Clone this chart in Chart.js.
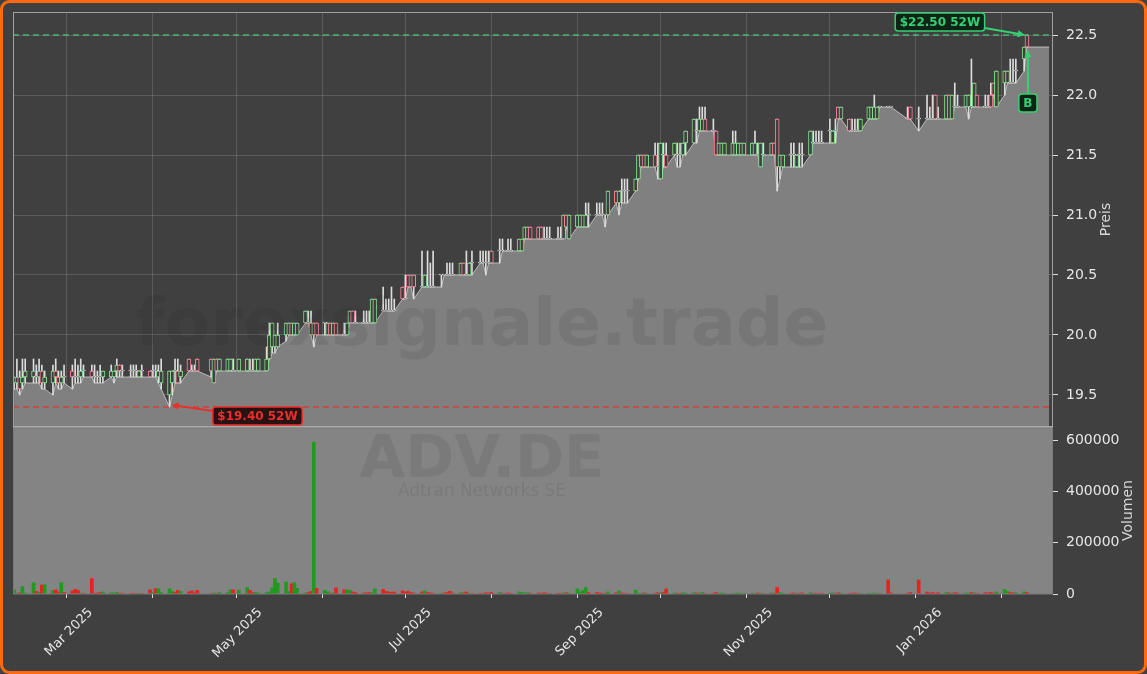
<!DOCTYPE html>
<html>
<head>
<meta charset="utf-8">
<title>ADV.DE</title>
<script src="https://cdn.jsdelivr.net/npm/chart.js@4.4.1/dist/chart.umd.min.js"></script>
<style>
  html, body { margin: 0; padding: 0; background: #404040; }
  canvas { display: block; }
</style>
</head>
<body>
<canvas id="chart" width="1147" height="674"></canvas>
<script>
// first trading day, trading days follow Mon-Fri without exchange holidays
const firstDay = "2025-02-10";
const holidays = ["2025-04-18", "2025-04-21", "2025-05-01", "2025-12-24", "2025-12-25", "2025-12-26", "2025-12-31", "2026-01-01"];

// one row per week
const opens = [
  19.6, 19.6, 19.65, 19.6, 19.65,
  19.65, 19.65, 19.65, 19.7, 19.6,
  19.6, 19.7, 19.65, 19.6, 19.65,
  19.7, 19.65, 19.65, 19.65, 19.7,
  19.7, 19.65, 19.65, 19.65, 19.65,
  19.65, 19.65, 19.7, 19.75, 19.7,
  19.7, 19.7, 19.7, 19.65, 19.7,
  19.7, 19.7, 19.7, 19.65, 19.6,
  19.5, 19.6, 19.7, 19.7, 19.65,
  19.8, 19.7, 19.7, 19.8,
  19.8, 19.6, 19.8, 19.7,
  19.7, 19.7, 19.7, 19.7,
  19.7, 19.7, 19.7, 19.7, 19.7,
  19.7, 19.8, 19.9, 19.9, 19.9,
  20.0, 20.0, 20.1, 20.0, 20.0,
  20.1, 20.1, 20.1, 20.0, 20.1,
  20.1, 20.0, 20.1, 20.0, 20.1,
  20.0, 20.0, 20.1, 20.2, 20.1,
  20.1, 20.1, 20.1, 20.1, 20.1,
  20.2, 20.2, 20.2, 20.2, 20.2,
  20.4, 20.3, 20.5, 20.5, 20.5,
  20.4, 20.4, 20.4, 20.4, 20.4,
  20.5, 20.5, 20.5, 20.5, 20.5,
  20.5, 20.6, 20.5, 20.5, 20.6,
  20.6, 20.6, 20.6, 20.6, 20.7,
  20.7, 20.7, 20.7, 20.7, 20.7,
  20.7, 20.7, 20.8, 20.8, 20.9,
  20.9, 20.9, 20.8, 20.8, 20.8,
  20.8, 20.8, 20.8, 21.0, 20.8,
  20.9, 20.9, 20.9, 20.9, 21.0,
  21.0, 21.0, 21.0, 21.0, 21.0,
  21.2, 21.1, 21.2, 21.2, 21.2,
  21.2, 21.3, 21.4, 21.5, 21.4,
  21.5, 21.4, 21.3, 21.5, 21.5,
  21.5, 21.5, 21.5, 21.5, 21.6,
  21.6, 21.7, 21.7, 21.7, 21.8,
  21.7, 21.7, 21.5, 21.5, 21.5,
  21.5, 21.5, 21.5, 21.5, 21.5,
  21.5, 21.5, 21.5, 21.4, 21.5,
  21.5, 21.6, 21.8, 21.4, 21.4,
  21.5, 21.5, 21.4, 21.5, 21.5,
  21.5, 21.6, 21.6, 21.6, 21.6,
  21.7, 21.6, 21.7, 21.9, 21.8,
  21.8, 21.7, 21.7, 21.7, 21.7,
  21.8, 21.8, 21.8, 21.8, 21.9,
  21.9, 21.9,
  21.8, 21.9, 21.8,
  21.8, 21.8, 21.8, 22.0, 21.8,
  21.8, 22.0, 21.8, 21.9, 21.9,
  21.9, 21.9, 21.9, 21.9, 22.0,
  21.9, 21.9, 22.0, 22.1, 21.9,
  22.1, 22.1, 22.1, 22.1, 22.2,
  22.3, 22.5
];
const highs = [
  19.65, 19.8, 19.7, 19.8, 19.8,
  19.8, 19.75, 19.8, 19.75, 19.7,
  19.75, 19.8, 19.7, 19.7, 19.75,
  19.75, 19.8, 19.75, 19.8, 19.75,
  19.75, 19.75, 19.7, 19.75, 19.7,
  19.75, 19.7, 19.8, 19.75, 19.75,
  19.75, 19.75, 19.75, 19.7, 19.75,
  19.7, 19.75, 19.75, 19.75, 19.8,
  19.7, 19.7, 19.8, 19.8, 19.75,
  19.8, 19.75, 19.75, 19.8,
  19.8, 19.8, 19.8, 19.8,
  19.8, 19.8, 19.8, 19.8,
  19.8, 19.8, 19.8, 19.8, 19.8,
  19.9, 20.1, 20.1, 20.0, 20.1,
  20.1, 20.1, 20.1, 20.1, 20.1,
  20.2, 20.2, 20.2, 20.1, 20.1,
  20.1, 20.1, 20.1, 20.1, 20.1,
  20.1, 20.1, 20.2, 20.2, 20.2,
  20.2, 20.2, 20.2, 20.3, 20.3,
  20.4, 20.3, 20.3, 20.4, 20.3,
  20.4, 20.5, 20.5, 20.5, 20.5,
  20.7, 20.5, 20.7, 20.6, 20.7,
  20.5, 20.5, 20.6, 20.6, 20.6,
  20.6, 20.6, 20.7, 20.6, 20.7,
  20.7, 20.7, 20.7, 20.7, 20.7,
  20.8, 20.8, 20.7, 20.8, 20.8,
  20.8, 20.8, 20.9, 20.9, 20.9,
  20.9, 20.9, 20.9, 20.9, 20.9,
  20.9, 20.9, 21.0, 21.0, 21.0,
  21.0, 21.0, 21.0, 21.1, 21.1,
  21.1, 21.1, 21.1, 21.0, 21.2,
  21.2, 21.2, 21.3, 21.3, 21.3,
  21.3, 21.5, 21.5, 21.5, 21.5,
  21.6, 21.6, 21.6, 21.6, 21.6,
  21.6, 21.6, 21.6, 21.6, 21.7,
  21.8, 21.8, 21.9, 21.9, 21.9,
  21.8, 21.7, 21.6, 21.6, 21.6,
  21.7, 21.7, 21.6, 21.6, 21.6,
  21.6, 21.7, 21.6, 21.6, 21.6,
  21.6, 21.6, 21.8, 21.5, 21.5,
  21.6, 21.6, 21.5, 21.6, 21.6,
  21.7, 21.7, 21.7, 21.7, 21.7,
  21.8, 21.7, 21.8, 21.9, 21.9,
  21.8, 21.8, 21.8, 21.8, 21.8,
  21.9, 21.9, 22.0, 21.9, 21.9,
  21.9, 21.9,
  21.9, 21.9, 21.9,
  22.0, 21.9, 22.0, 22.0, 21.9,
  22.0, 22.0, 22.0, 22.1, 22.0,
  22.0, 22.0, 22.3, 22.1, 22.0,
  22.0, 22.0, 22.1, 22.1, 22.2,
  22.2, 22.2, 22.3, 22.3, 22.3,
  22.4, 22.5
];
const lows = [
  19.55, 19.55, 19.5, 19.55, 19.6,
  19.6, 19.6, 19.6, 19.55, 19.55,
  19.5, 19.6, 19.55, 19.55, 19.6,
  19.55, 19.6, 19.6, 19.6, 19.65,
  19.65, 19.6, 19.6, 19.6, 19.6,
  19.65, 19.6, 19.65, 19.65, 19.65,
  19.65, 19.65, 19.65, 19.65, 19.65,
  19.65, 19.65, 19.65, 19.6, 19.55,
  19.4, 19.5, 19.6, 19.6, 19.6,
  19.7, 19.7, 19.7, 19.7,
  19.65, 19.6, 19.7, 19.7,
  19.7, 19.7, 19.7, 19.7,
  19.7, 19.7, 19.7, 19.7, 19.7,
  19.7, 19.8, 19.85, 19.85, 19.9,
  19.95, 20.0, 20.0, 20.0, 20.0,
  20.1, 20.1, 20.0, 19.9, 20.0,
  20.0, 20.0, 20.0, 20.0, 20.0,
  20.0, 20.0, 20.1, 20.1, 20.1,
  20.1, 20.1, 20.1, 20.1, 20.1,
  20.2, 20.2, 20.2, 20.2, 20.2,
  20.3, 20.3, 20.4, 20.4, 20.3,
  20.4, 20.4, 20.4, 20.4, 20.4,
  20.4, 20.5, 20.5, 20.5, 20.5,
  20.5, 20.5, 20.5, 20.5, 20.5,
  20.6, 20.6, 20.5, 20.6, 20.6,
  20.6, 20.7, 20.7, 20.7, 20.7,
  20.7, 20.7, 20.8, 20.8, 20.8,
  20.8, 20.8, 20.8, 20.8, 20.8,
  20.8, 20.8, 20.8, 20.9, 20.8,
  20.9, 20.9, 20.9, 20.9, 20.9,
  21.0, 21.0, 21.0, 20.9, 21.0,
  21.1, 21.0, 21.1, 21.1, 21.1,
  21.2, 21.3, 21.4, 21.4, 21.4,
  21.4, 21.3, 21.3, 21.4, 21.4,
  21.5, 21.4, 21.4, 21.5, 21.5,
  21.6, 21.6, 21.7, 21.7, 21.7,
  21.7, 21.5, 21.5, 21.5, 21.5,
  21.5, 21.5, 21.5, 21.5, 21.5,
  21.5, 21.5, 21.5, 21.4, 21.5,
  21.5, 21.5, 21.2, 21.3, 21.4,
  21.4, 21.4, 21.4, 21.4, 21.4,
  21.5, 21.6, 21.6, 21.6, 21.6,
  21.6, 21.6, 21.6, 21.8, 21.8,
  21.7, 21.7, 21.7, 21.7, 21.7,
  21.8, 21.8, 21.8, 21.8, 21.9,
  21.9, 21.9,
  21.8, 21.8, 21.7,
  21.8, 21.8, 21.8, 21.8, 21.8,
  21.8, 21.8, 21.8, 21.9, 21.9,
  21.9, 21.8, 21.9, 21.9, 21.9,
  21.9, 21.9, 21.9, 22.0, 21.9,
  22.0, 22.1, 22.1, 22.1, 22.1,
  22.2, 22.4
];
const closes = [
  19.65, 19.65, 19.55, 19.65, 19.7,
  19.7, 19.65, 19.7, 19.6, 19.65,
  19.7, 19.65, 19.6, 19.65, 19.65,
  19.65, 19.65, 19.65, 19.7, 19.7,
  19.65, 19.65, 19.65, 19.65, 19.7,
  19.7, 19.7, 19.75, 19.7, 19.7,
  19.7, 19.7, 19.7, 19.7, 19.7,
  19.65, 19.7, 19.7, 19.7, 19.7,
  19.7, 19.7, 19.7, 19.6, 19.7,
  19.7, 19.7, 19.7, 19.7,
  19.7, 19.8, 19.7, 19.8,
  19.8, 19.8, 19.7, 19.8,
  19.8, 19.7, 19.7, 19.8, 19.8,
  19.8, 20.0, 20.1, 20.0, 20.0,
  20.1, 20.1, 20.0, 20.1, 20.1,
  20.2, 20.1, 20.0, 20.1, 20.0,
  20.1, 20.1, 20.0, 20.1, 20.0,
  20.0, 20.1, 20.2, 20.1, 20.1,
  20.1, 20.1, 20.1, 20.3, 20.3,
  20.2, 20.2, 20.2, 20.2, 20.2,
  20.3, 20.3, 20.4, 20.4, 20.4,
  20.4, 20.5, 20.4, 20.4, 20.4,
  20.5, 20.5, 20.5, 20.5, 20.5,
  20.6, 20.5, 20.5, 20.6, 20.6,
  20.6, 20.6, 20.6, 20.6, 20.6,
  20.7, 20.7, 20.7, 20.7, 20.7,
  20.8, 20.8, 20.9, 20.9, 20.8,
  20.8, 20.8, 20.8, 20.8, 20.8,
  20.8, 20.8, 21.0, 20.9, 21.0,
  21.0, 21.0, 21.0, 21.0, 21.0,
  21.0, 21.0, 21.0, 21.0, 21.2,
  21.1, 21.2, 21.2, 21.2, 21.2,
  21.3, 21.5, 21.5, 21.4, 21.5,
  21.4, 21.4, 21.6, 21.5, 21.4,
  21.6, 21.5, 21.5, 21.6, 21.7,
  21.8, 21.7, 21.8, 21.8, 21.7,
  21.7, 21.5, 21.6, 21.6, 21.6,
  21.6, 21.6, 21.6, 21.6, 21.6,
  21.6, 21.6, 21.5, 21.6, 21.5,
  21.6, 21.5, 21.4, 21.5, 21.5,
  21.5, 21.5, 21.5, 21.5, 21.5,
  21.7, 21.6, 21.6, 21.6, 21.6,
  21.7, 21.7, 21.7, 21.8, 21.9,
  21.7, 21.7, 21.7, 21.7, 21.8,
  21.9, 21.9, 21.9, 21.9, 21.9,
  21.9, 21.9,
  21.8, 21.8, 21.8,
  21.8, 21.8, 21.8, 21.8, 21.8,
  22.0, 21.8, 22.0, 21.9, 21.9,
  22.0, 22.0, 21.9, 22.1, 21.9,
  21.9, 21.9, 21.9, 22.0, 22.2,
  22.2, 22.2, 22.1, 22.1, 22.2,
  22.4, 22.4
];
const volumes = [
  16000, 3000, 5000, 29000, 4000,
  44000, 10000, 6000, 35000, 36000,
  13000, 16000, 8000, 44000, 6000,
  12000, 18000, 14000, 3000, 3000,
  60000, 3000, 4000, 6000, 8000,
  5000, 4000, 6000, 3000, 3000,
  2000, 3000, 2000, 1000, 2000,
  16000, 5000, 21000, 20000, 6000,
  20000, 10000, 6000, 14000, 10000,
  8000, 12000, 5000, 14000,
  2000, 4000, 2000, 6000,
  6000, 16000, 16000, 15000,
  25000, 14000, 5000, 6000, 4000,
  6000, 8000, 24000, 60000, 42000,
  47000, 10000, 40000, 44000, 22000,
  4000, 6000, 10000, 593000, 22000,
  14000, 8000, 3000, 4000, 24000,
  16000, 16000, 14000, 8000, 6000,
  4000, 4000, 6000, 5000, 20000,
  18000, 10000, 8000, 6000, 8000,
  12000, 8000, 10000, 6000, 4000,
  8000, 12000, 6000, 4000, 3000,
  3000, 4000, 6000, 10000, 4000,
  5000, 4000, 8000, 3000, 2000,
  3000, 2000, 5000, 4000, 6000,
  6000, 3000, 2000, 4000, 2000,
  8000, 6000, 4000, 5000, 3000,
  4000, 3000, 5000, 3000, 2000,
  3000, 2000, 4000, 5000, 3000,
  20000, 8000, 14000, 25000, 6000,
  6000, 4000, 3000, 2000, 8000,
  5000, 12000, 4000, 3000, 2000,
  15000, 3000, 2000, 4000, 3000,
  3000, 5000, 4000, 6000, 20000,
  4000, 3000, 2000, 5000, 3000,
  5000, 4000, 3000, 6000, 2000,
  3000, 6000, 2000, 4000, 3000,
  2000, 3000, 4000, 2000, 3000,
  3000, 2000, 4000, 3000, 2000,
  4000, 3000, 25000, 6000, 3000,
  3000, 4000, 2000, 3000, 4000,
  5000, 2000, 3000, 2000, 3000,
  3000, 4000, 2000, 5000, 3000,
  2000, 3000, 4000, 2000, 3000,
  3000, 2000, 4000, 3000, 2000,
  55000, 4000,
  3000, 6000, 55000,
  8000, 4000, 6000, 3000, 5000,
  6000, 4000, 3000, 5000, 4000,
  4000, 3000, 6000, 4000, 3000,
  5000, 4000, 6000, 3000, 8000,
  18000, 10000, 6000, 4000, 5000,
  8000, 6000
];

const monthTicks = ["2025-03-01", "2025-04-01", "2025-05-01", "2025-06-01", "2025-07-01", "2025-08-01",
  "2025-09-01", "2025-10-01", "2025-11-01", "2025-12-01", "2026-01-01", "2026-02-01"];
const monthLabels = ["Mar 2025", "", "May 2025", "", "Jul 2025", "", "Sep 2025", "", "Nov 2025", "", "Jan 2026", ""];
const priceTicks = [19.5, 20.0, 20.5, 21.0, 21.5, 22.0, 22.5];
const volumeTicks = [0, 200000, 400000, 600000];
const areaEnd = "2026-02-18";

const DAY = 86400000;
const origin = Date.UTC(2025, 2, 1);
function dayNum(s) {
  const [y, m, d] = s.split("-").map(Number);
  return (Date.UTC(y, m - 1, d) - origin) / DAY;
}

const days = [];
let t = Date.parse(firstDay + "T00:00:00Z");
while (days.length < closes.length) {
  const dt = new Date(t);
  const wd = dt.getUTCDay();
  if (wd !== 0 && wd !== 6 && !holidays.includes(dt.toISOString().slice(0, 10))) {
    days.push((t - origin) / DAY);
  }
  t += DAY;
}

const green = "#86e08a";
const pink = "#ff8298";
const doji = "#d8d8d8";

const bodyColors = closes.map((c, i) => (c > opens[i] ? green : c < opens[i] ? pink : doji));
const volColors = closes.map((c, i) => {
  const prev = i > 0 ? closes[i - 1] : c;
  const up = c > opens[i] || (c === opens[i] && c > prev);
  return up ? "#1f9a1f" : "#e8221e";
});

const hi52 = Math.max(...highs);
const lo52 = Math.min(...lows);
const hiIdx = highs.lastIndexOf(hi52);
const loIdx = lows.indexOf(lo52);
const xMin = -19.4;
const xMax = 355.4;

const areaData = days.map((d, i) => ({ x: d, y: lows[i] }));
areaData.push({ x: dayNum(areaEnd), y: lows[lows.length - 1] });

Chart.defaults.font.family = '"DejaVu Sans", sans-serif';
Chart.defaults.color = "#e6e6e6";

function arrow(ctx, x1, y1, x2, y2, color) {
  const a = Math.atan2(y2 - y1, x2 - x1);
  const h = 8;
  ctx.strokeStyle = color;
  ctx.fillStyle = color;
  ctx.lineWidth = 2;
  ctx.beginPath();
  ctx.moveTo(x1, y1);
  ctx.lineTo(x2 - Math.cos(a) * h * 0.7, y2 - Math.sin(a) * h * 0.7);
  ctx.stroke();
  ctx.beginPath();
  ctx.moveTo(x2, y2);
  ctx.lineTo(x2 - h * Math.cos(a - 0.45), y2 - h * Math.sin(a - 0.45));
  ctx.lineTo(x2 - h * Math.cos(a + 0.45), y2 - h * Math.sin(a + 0.45));
  ctx.closePath();
  ctx.fill();
}

function roundBox(ctx, x, y, w, h, r) {
  ctx.beginPath();
  ctx.moveTo(x + r, y);
  ctx.lineTo(x + w - r, y);
  ctx.arcTo(x + w, y, x + w, y + r, r);
  ctx.lineTo(x + w, y + h - r);
  ctx.arcTo(x + w, y + h, x + w - r, y + h, r);
  ctx.lineTo(x + r, y + h);
  ctx.arcTo(x, y + h, x, y + h - r, r);
  ctx.lineTo(x, y + r);
  ctx.arcTo(x, y, x + r, y, r);
  ctx.closePath();
}

function tag(ctx, cx, cy, text, color, bg) {
  ctx.font = 'bold 12px "DejaVu Sans"';
  const w = ctx.measureText(text).width + 9;
  const h = 18;
  roundBox(ctx, cx - w / 2, cy - h / 2, w, h, 3);
  ctx.fillStyle = bg;
  ctx.fill();
  ctx.strokeStyle = color;
  ctx.lineWidth = 1.5;
  ctx.stroke();
  ctx.fillStyle = color;
  ctx.textAlign = "center";
  ctx.textBaseline = "middle";
  ctx.fillText(text, cx, cy + 1);
  return w;
}

function fitText(ctx, text, width, weight) {
  ctx.font = weight + ' 100px "DejaVu Sans"';
  const size = 100 * width / ctx.measureText(text).width;
  ctx.font = weight + " " + size + 'px "DejaVu Sans"';
}

const decor = {
  id: "decor",
  beforeDraw(chart) {
    const ctx = chart.ctx;
    ctx.save();
    ctx.fillStyle = "#404040";
    ctx.fillRect(0, 0, chart.width, chart.height);
    ctx.restore();
  },
  beforeDatasetsDraw(chart) {
    const { ctx, chartArea } = chart;
    const v = chart.scales.yVol;
    ctx.save();
    ctx.fillStyle = "#848484";
    ctx.fillRect(chartArea.left, v.top, chartArea.right - chartArea.left, v.bottom - v.top);
    ctx.restore();
  },
  afterDatasetsDraw(chart) {
    const { ctx, chartArea } = chart;
    const x = chart.scales.x;
    const y = chart.scales.y;
    const v = chart.scales.yVol;
    const mid = (chartArea.left + chartArea.right) / 2 - 51;
    ctx.save();
    // watermarks
    ctx.fillStyle = "rgba(20,20,20,0.09)";
    ctx.textAlign = "center";
    ctx.textBaseline = "middle";
    fitText(ctx, "forexsignale.trade", 693, "bold");
    ctx.fillText("forexsignale.trade", mid, y.top + 316);
    fitText(ctx, "ADV.DE", 245, "bold");
    ctx.fillText("ADV.DE", mid, v.top + 35);
    fitText(ctx, "Adtran Networks SE", 168, "normal");
    ctx.fillText("Adtran Networks SE", mid, v.top + 65);

    // pane frames
    ctx.strokeStyle = "#a0a0a0";
    ctx.lineWidth = 1;
    ctx.strokeRect(chartArea.left + 0.5, y.top + 0.5, chartArea.right - chartArea.left - 1, y.bottom - y.top);
    ctx.strokeStyle = "#a8a8a8";
    ctx.lineWidth = 2;
    ctx.beginPath();
    ctx.moveTo(chartArea.left, y.bottom);
    ctx.lineTo(chartArea.right, y.bottom);
    ctx.stroke();
    ctx.strokeStyle = "#7a7a7a";
    ctx.lineWidth = 1;
    ctx.strokeRect(chartArea.left + 0.5, v.top + 1, chartArea.right - chartArea.left - 1, v.bottom - v.top - 1);

    // 52 week high / low tags
    const hx = x.getPixelForValue(days[hiIdx]);
    const hy = y.getPixelForValue(hi52);
    const gw = tag(ctx, hx - 87, hy - 13, "$" + hi52.toFixed(2) + " 52W", "#35d072", "#0f2416");
    arrow(ctx, hx - 87 + gw / 2, hy - 7, hx - 2, hy, "#35d072");

    const lx = x.getPixelForValue(days[loIdx]);
    const ly = y.getPixelForValue(lo52);
    const rw = tag(ctx, lx + 88, ly + 9, "$" + lo52.toFixed(2) + " 52W", "#e8302c", "#2a1212");
    arrow(ctx, lx + 88 - rw / 2, ly + 4, lx + 2, ly - 2, "#e8302c");

    // buy signal on last bar
    const last = days.length - 1;
    const bx = x.getPixelForValue(days[last]);
    const by = y.getPixelForValue(closes[last]);
    tag(ctx, bx + 1, by + 56, "B", "#35d072", "#0f2416");
    arrow(ctx, bx + 1, by + 46, bx + 1, by + 3, "#35d072");
    ctx.restore();
  },
  afterDraw(chart) {
    const ctx = chart.ctx;
    const y = chart.scales.y;
    const v = chart.scales.yVol;
    ctx.save();
    ctx.fillStyle = "#d6d6d6";
    ctx.font = '14px "DejaVu Sans"';
    ctx.textAlign = "center";
    ctx.textBaseline = "middle";
    ctx.translate(y.right - 41, (y.top + y.bottom) / 2);
    ctx.rotate(-Math.PI / 2);
    ctx.fillText("Preis", 0, 0);
    ctx.restore();
    ctx.save();
    ctx.fillStyle = "#d6d6d6";
    ctx.font = '14px "DejaVu Sans"';
    ctx.textAlign = "center";
    ctx.textBaseline = "middle";
    ctx.translate(v.right - 19, (v.top + v.bottom) / 2);
    ctx.rotate(-Math.PI / 2);
    ctx.fillText("Volumen", 0, 0);
    ctx.restore();

    // orange frame
    ctx.save();
    ctx.strokeStyle = "#ff6a10";
    ctx.lineWidth = 3;
    roundBox(ctx, 1.5, 1.5, chart.width - 3, chart.height - 3, 8);
    ctx.stroke();
    ctx.restore();
  }
};

// stop edge labels from pushing the plot area inwards
function fixSide(scale) {
  scale.width = 94;
  scale.paddingTop = 0;
  scale.paddingBottom = 0;
}

const config = {
  type: "bar",
  data: {
    datasets: [
      {
        type: "line",
        label: "Tief",
        data: areaData,
        yAxisID: "y",
        fill: "start",
        backgroundColor: "#808080",
        borderColor: "rgba(215,215,215,0.75)",
        borderWidth: 1,
        pointRadius: 0,
        tension: 0,
        order: 10,
      },
      {
        label: "Docht",
        data: days.map((d, i) => ({ x: d, y: [lows[i], highs[i]] })),
        yAxisID: "y",
        backgroundColor: "#dcdcdc",
        borderWidth: 0,
        barThickness: 1,
        grouped: false,
        order: 5,
      },
      {
        label: "Kerze",
        data: days.map((d, i) => ({ x: d, y: [opens[i], closes[i]] })),
        yAxisID: "y",
        backgroundColor: "#404040",
        borderColor: bodyColors,
        borderWidth: 1,
        borderSkipped: false,
        barThickness: 4,
        minBarLength: 1,
        grouped: false,
        order: 3,
      },
      {
        type: "line",
        label: "52W Hoch",
        data: [{ x: xMin, y: hi52 }, { x: xMax, y: hi52 }],
        yAxisID: "y",
        borderColor: "rgba(70,200,120,0.85)",
        borderDash: [6, 4],
        borderWidth: 1.6,
        pointRadius: 0,
        fill: false,
        order: 1,
      },
      {
        type: "line",
        label: "52W Tief",
        data: [{ x: xMin, y: lo52 }, { x: xMax, y: lo52 }],
        yAxisID: "y",
        borderColor: "rgba(232,50,45,0.85)",
        borderDash: [6, 4],
        borderWidth: 1.6,
        pointRadius: 0,
        fill: false,
        order: 1,
      },
      {
        label: "Volumen",
        data: days.map((d, i) => ({ x: d, y: volumes[i] })),
        yAxisID: "yVol",
        backgroundColor: volColors,
        borderWidth: 0,
        barThickness: 3,
        grouped: false,
        order: 2,
      },
    ],
  },
  options: {
    responsive: false,
    animation: false,
    events: [],
    layout: { padding: { left: 13, top: 12, right: 0, bottom: 0 } },
    plugins: {
      legend: { display: false },
      tooltip: { enabled: false },
    },
    scales: {
      x: {
        type: "linear",
        position: "bottom",
        min: xMin,
        max: xMax,
        offset: false,
        afterBuildTicks: (scale) => {
          scale.ticks = monthTicks.map((s) => ({ value: dayNum(s) }));
        },
        afterFit: (scale) => {
          scale.height = 80;
          scale.paddingLeft = 0;
          scale.paddingRight = 0;
        },
        ticks: {
          autoSkip: false,
          maxRotation: 45,
          minRotation: 45,
          labelOffset: 24,
          padding: 7,
          color: "#e6e6e6",
          font: { size: 13 },
          callback: (value, index) => monthLabels[index],
        },
        grid: {
          offset: false,
          color: "rgba(255,255,255,0.14)",
          tickColor: "#dcdcdc",
          tickLength: 4,
        },
        border: { display: false },
      },
      y: {
        type: "linear",
        position: "right",
        stack: "panes",
        stackWeight: 415,
        min: 19.233,
        max: 22.692,
        afterBuildTicks: (scale) => {
          scale.ticks = priceTicks.map((p) => ({ value: p }));
        },
        afterFit: fixSide,
        ticks: {
          padding: 8,
          color: "#e6e6e6",
          font: { size: 14 },
          callback: (value) => value.toFixed(1),
        },
        grid: {
          color: "rgba(255,255,255,0.14)",
          tickColor: "#dcdcdc",
          tickLength: 5,
        },
        border: { display: false },
      },
      yVol: {
        type: "linear",
        position: "right",
        stack: "panes",
        stackWeight: 167,
        min: 0,
        max: 652000,
        afterBuildTicks: (scale) => {
          scale.ticks = volumeTicks.map((p) => ({ value: p }));
        },
        afterFit: fixSide,
        ticks: {
          padding: 8,
          color: "#e6e6e6",
          font: { size: 14 },
          callback: (value) => String(value),
        },
        grid: {
          drawOnChartArea: false,
          tickColor: "#dcdcdc",
          tickLength: 5,
        },
        border: { display: false },
      },
    },
  },
  plugins: [decor],
};

new Chart(document.getElementById("chart"), config);
</script>
</body>
</html>
